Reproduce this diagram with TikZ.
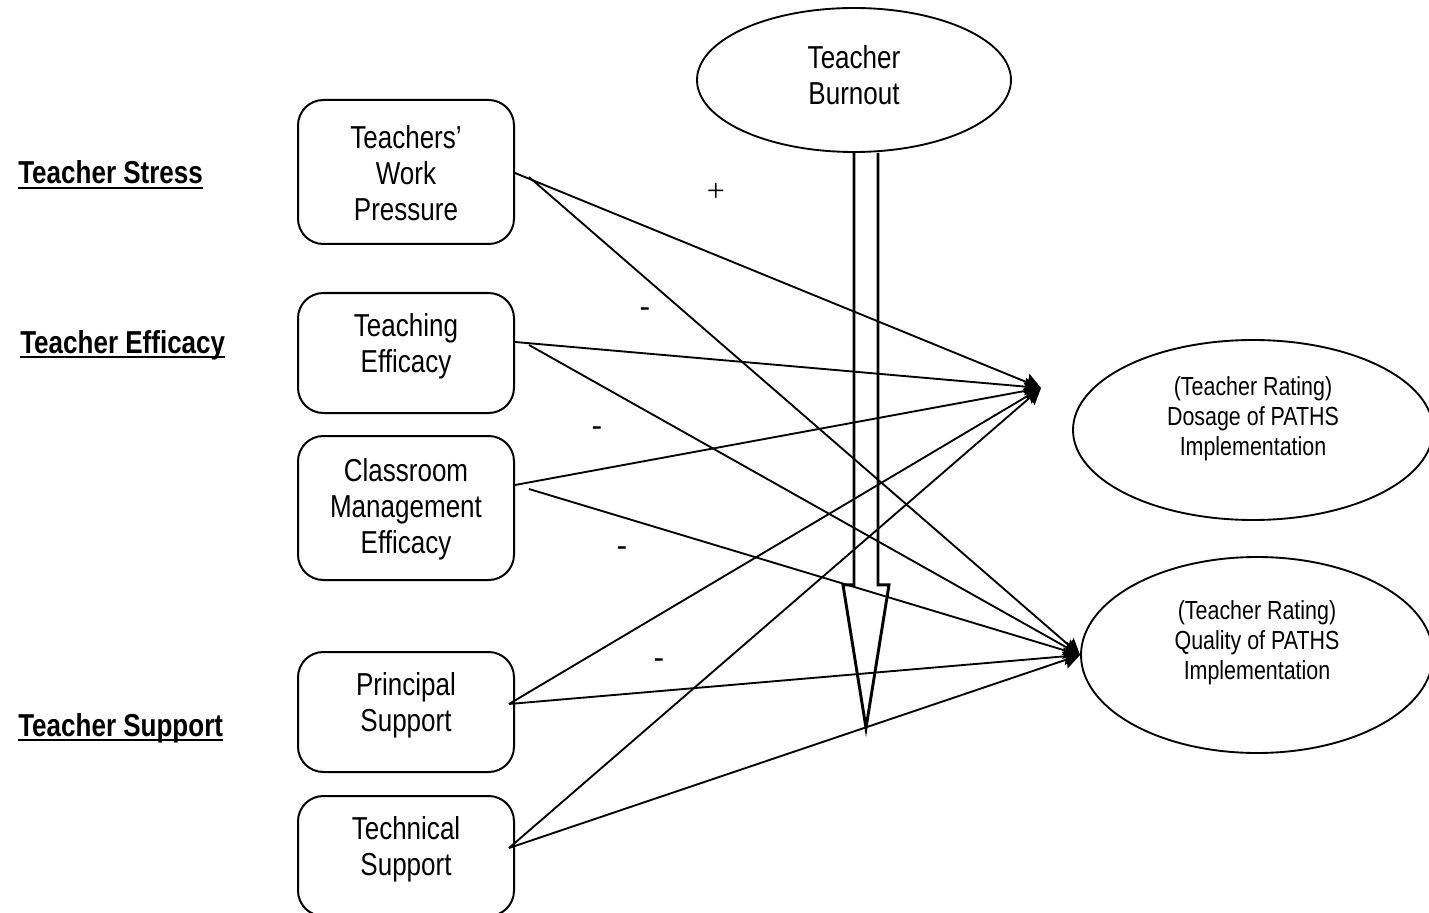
\documentclass[tikz,border=0pt]{standalone}
\usepackage{fontspec}
\setmainfont{Liberation Sans}[FakeStretch=0.82]
\newfontfamily\signfont{Liberation Serif}
\newfontfamily\dashfont{Liberation Sans}
\usetikzlibrary{shapes.geometric,arrows.meta,calc}

\begin{document}
\begin{tikzpicture}[x=0.75pt,y=-0.75pt,
  box/.style={draw,line width=1.5pt,rounded corners=19pt,minimum width=162pt,inner sep=0pt},
  oval/.style={draw,ellipse,line width=1.4pt,inner sep=0pt},
  boxtext/.style={align=center,inner sep=0pt,font=\fontsize{23.8}{27}\selectfont},
  ovaltext/.style={align=center,inner sep=0pt,font=\fontsize{19.6}{22.5}\selectfont},
  cat/.style={inner sep=0pt,anchor=base west,font=\fontsize{23.8}{27}\selectfont\bfseries},
  uline/.style={line width=1.5pt},
  link/.style={line width=1.4pt,-{Stealth[length=12pt,width=13pt,inset=1.5pt]}},
  bigarrow/.style={line width=2.2pt,line join=miter},
  sign/.style={inner sep=0pt,font=\fontsize{24}{26}\dashfont},
]
\useasboundingbox (0,0) rectangle (1429,913);

% category headings
\node[cat] (cs) at (18,184) {Teacher Stress};
\node[cat] (ce) at (20,353) {Teacher Efficacy};
\node[cat] (cp) at (18,736) {Teacher Support};
\foreach \c in {cs,ce,cp}
  \draw[uline] ($(\c.base west)+(0,4)$) -- ($(\c.base east)+(0,4)$);

% predictor boxes
\node[box,minimum height=108pt] (b1) at (406,172) {};
\node[boxtext] (t1) at (406,173) {Teachers’\\Work\\Pressure};
\node[box,minimum height=90pt] (b2) at (406,353) {};
\node[boxtext] (t2) at (406,346) {Teaching\\Efficacy};
\node[box,minimum height=108pt] (b3) at (406,508) {};
\node[boxtext] (t3) at (406,509) {Classroom\\Management\\Efficacy};
\node[box,minimum height=90pt] (b4) at (406,712) {};
\node[boxtext] (t4) at (406,705) {Principal\\Support};
\node[box,minimum height=90pt] (b5) at (406,856) {};
\node[boxtext] (t5) at (406,849) {Technical\\Support};

% moderator and outcomes
\node[oval,minimum width=235.5pt,minimum height=108pt] (burn) at (854,80) {};
\node[boxtext] (tb) at (854,75) {Teacher\\Burnout};
\node[oval,minimum width=270pt,minimum height=135pt] (dos) at (1253,430) {};
\node[ovaltext] (td) at (1253,419) {(Teacher Rating)\\Dosage of PATHS\\Implementation};
\node[oval,minimum width=264pt,minimum height=147pt] (qual) at (1257,655) {};
\node[ovaltext] (tq) at (1257,643) {(Teacher Rating)\\Quality of PATHS\\Implementation};

\coordinate (dtip) at (1041,388);

% paths to dosage
\draw[link] ($(b1.east)+(0,1)$) -- (dtip);
\draw[link] ($(b2.east)+(0,-11)$) -- (dtip);
\draw[link] ($(b3.east)+(0,-23)$) -- (dtip);
\draw[link] ($(b4.east)+(-6,-8)$) -- (dtip);
\draw[link] ($(b5.east)+(-6,-8)$) -- (dtip);
% paths to quality
\draw[link] ($(b1.east)+(14,5)$) -- (qual.west);
\draw[link] ($(b2.east)+(14,-8)$) -- (qual.west);
\draw[link] ($(b3.east)+(14,-19)$) -- (qual.west);
\draw[link] ($(b4.east)+(-6,-8)$) -- (qual.west);
\draw[link] ($(b5.east)+(-6,-8)$) -- (qual.west);

% moderating effect of burnout
\draw[bigarrow] (burn.south) -- ++(0,432) -- ++(-11,0) -- ++(23,143)
  -- ++(23,-143) -- ++(-11,0) -- ($(burn.south)+(24,0)$);

% signs
\node[sign,font=\fontsize{24}{26}\signfont] (s0) at (716,192) {+};
\node[sign] (s1) at (645,313) {-};
\node[sign] (s2) at (597,432) {-};
\node[sign] (s3) at (622,552) {-};
\node[sign] (s4) at (659,664) {-};
\end{tikzpicture}
\end{document}
